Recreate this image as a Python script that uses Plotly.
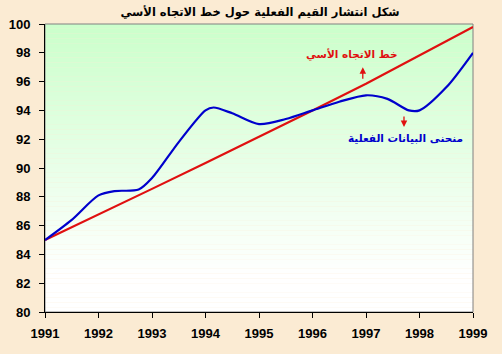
import plotly.graph_objects as go

years_actual = [1991, 1991.5, 1992, 1992.3, 1992.75, 1993, 1993.5, 1994, 1994.15, 1994.5,
                1995, 1995.5, 1996, 1996.5, 1997, 1997.4, 1997.8, 1998, 1998.5, 1999]
actual = [85.0, 86.4, 88.1, 88.4, 88.5, 89.3, 91.8, 94.0, 94.2, 93.8,
          93.05, 93.4, 94.0, 94.6, 95.05, 94.8, 94.0, 94.0, 95.6, 98.0]
years_trend = [1991, 1992, 1993, 1994, 1995, 1996, 1997, 1998, 1999]
trend = [85.0, 86.75, 88.55, 90.35, 92.15, 94.0, 95.85, 97.8, 99.8]

title_text = "شكل انتشار القيم الفعلية حول خط الاتجاه الأسي"
trend_label = "خط الاتجاه الأسي"
actual_label = "منحنى البيانات الفعلية"

fig = go.Figure()
fig.add_trace(go.Scatter(x=years_trend, y=trend, mode="lines",
                         line=dict(color="#E01010", width=2.2), showlegend=False))
fig.add_trace(go.Scatter(x=years_actual, y=actual, mode="lines",
                         line=dict(color="#0000CC", width=2.2, shape="spline", smoothing=0.8),
                         showlegend=False))

# gradient background of plot area
n = 60
shapes = []
for i in range(n):
    f = i / (n - 1)
    g = min(1.0, f * 1.15)
    r = int(204 + (255 - 204) * g)
    b = int(204 + (255 - 204) * g)
    shapes.append(dict(type="rect", xref="x domain", yref="y domain",
                       x0=0, x1=1, y0=1 - (i + 1) / n, y1=1 - i / n,
                       fillcolor=f"rgb({r},255,{b})", line=dict(width=0), layer="below"))
shapes.append(dict(type="rect", xref="x domain", yref="y domain", x0=0, x1=1, y0=0, y1=1,
                   line=dict(color="#808080", width=1), layer="below"))

arrow_font = dict(family="DejaVu Sans", size=10.5, weight="bold")
fig.update_layout(
    width=502, height=354,
    margin=dict(l=45, r=29, t=24, b=42),
    paper_bgcolor="#FBEBD3",
    plot_bgcolor="rgba(0,0,0,0)",
    shapes=shapes,
    title=dict(text=title_text, x=0.518, xanchor="center", y=0.966, yanchor="middle",
               font=dict(family="DejaVu Sans", size=11.5, color="black", weight="bold")),
    annotations=[
        dict(x=1996.74, y=97.85, xref="x", yref="y", text=trend_label, showarrow=False,
             font=dict(arrow_font, color="#E01010")),
        dict(x=1996.94, y=97.0, xref="x", yref="y", text="", showarrow=True,
             ax=0, ay=13, arrowhead=2, arrowsize=1, arrowwidth=1.3, arrowcolor="#E01010"),
        dict(x=1997.71, y=92.85, xref="x", yref="y", text="", showarrow=True,
             ax=0, ay=-12, arrowhead=2, arrowsize=1, arrowwidth=1.3, arrowcolor="#E01010"),
        dict(x=1997.73, y=92.08, xref="x", yref="y", text=actual_label, showarrow=False,
             font=dict(arrow_font, color="#0000CC")),
    ],
)
fig.update_xaxes(range=[1991, 1999], tickmode="linear", tick0=1991, dtick=1, automargin=False,
                 showgrid=False, zeroline=False, showline=True, linecolor="black", linewidth=1,
                 ticks="outside", ticklen=5, tickcolor="black", ticklabelstandoff=4,
                 tickfont=dict(family="Liberation Sans", size=13, color="black", weight="bold"))
fig.update_yaxes(range=[80, 100], tickmode="linear", tick0=80, dtick=2, automargin=False,
                 showgrid=False, zeroline=False, showline=True, linecolor="black", linewidth=1,
                 ticks="outside", ticklen=5, tickcolor="black", ticklabelstandoff=6,
                 tickfont=dict(family="Liberation Sans", size=13, color="black", weight="bold"))

fig.write_html("out.html")
